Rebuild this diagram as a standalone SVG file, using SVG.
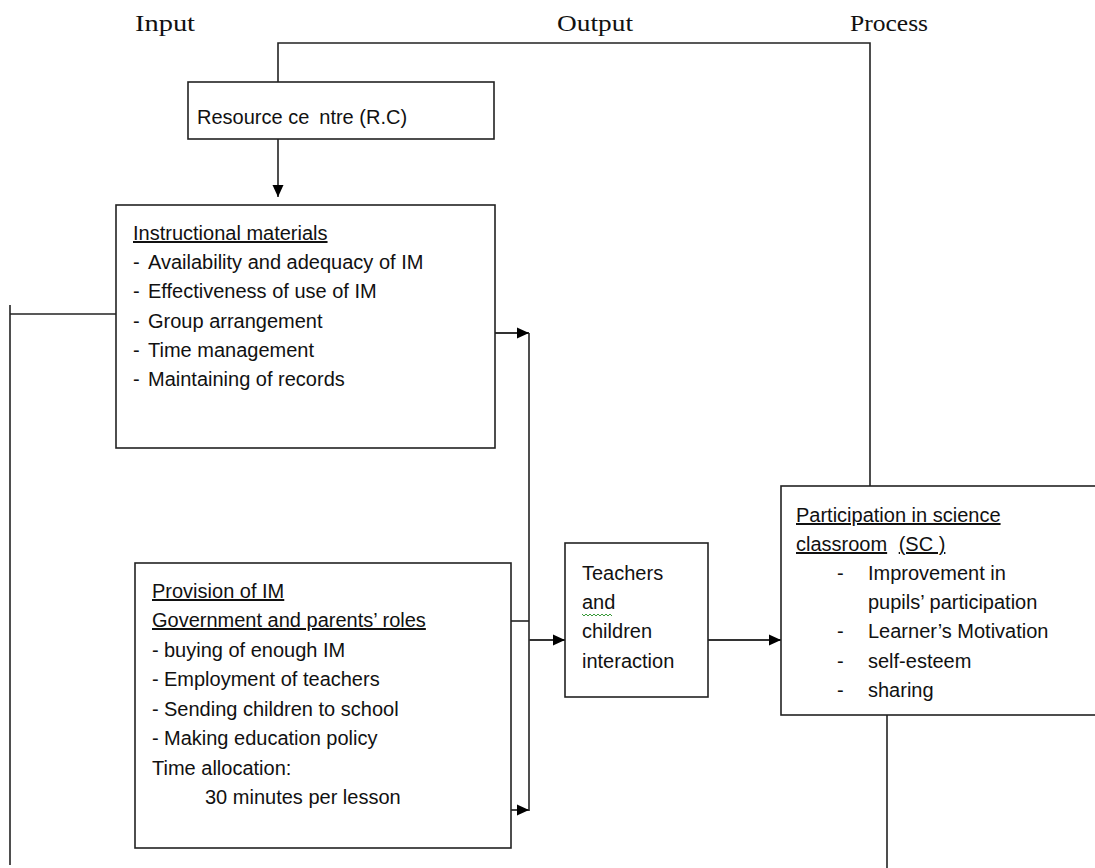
<svg xmlns="http://www.w3.org/2000/svg" width="1095" height="868" viewBox="0 0 1095 868">
<style>
.box{fill:#fff;stroke:#222;stroke-width:1.6}
.ln{fill:none;stroke:#222;stroke-width:1.6}
.ar{fill:none;stroke:#333;stroke-width:1.8}
.t{font-family:"Liberation Sans",Arial,sans-serif;font-size:20px;fill:#111}
.h{font-family:"Liberation Serif","Times New Roman",serif;font-size:24px;fill:#111}
.u{text-decoration:underline}
</style>
<defs>
<marker id="ah" markerUnits="userSpaceOnUse" markerWidth="12" markerHeight="12" refX="12" refY="6" orient="auto">
<path d="M0,0.5 L12,6 L0,11.5 Z" fill="#000"/>
</marker>
</defs>
<rect width="1095" height="868" fill="#fff"/>

<g id="headers">
<text class="h" x="135" y="31" textLength="60" lengthAdjust="spacingAndGlyphs">Input</text>
<text class="h" x="557" y="31" textLength="76" lengthAdjust="spacingAndGlyphs">Output</text>
<text class="h" x="850" y="31" textLength="78" lengthAdjust="spacingAndGlyphs">Process</text>
</g>

<g id="connectors">
<polyline class="ln" points="278,82 278,43 870,43 870,486"/>
<line class="ln" x1="278" y1="139" x2="278" y2="197" marker-end="url(#ah)"/>
<line class="ar" x1="495" y1="333" x2="529" y2="333" marker-end="url(#ah)"/>
<line class="ln" x1="529" y1="333" x2="529" y2="811"/>
<line class="ln" x1="511" y1="621" x2="529" y2="621"/>
<line class="ar" x1="511" y1="810" x2="529" y2="810" marker-end="url(#ah)"/>
<line class="ar" x1="529" y1="640" x2="565" y2="640" marker-end="url(#ah)"/>
<line class="ar" x1="708" y1="640" x2="781" y2="640" marker-end="url(#ah)"/>
<line class="ln" x1="116" y1="314" x2="10" y2="314"/>
<line class="ln" x1="10" y1="305" x2="10" y2="865"/>
<line class="ln" x1="887" y1="715" x2="887" y2="868"/>
</g>

<g id="resource-centre">
<rect class="box" x="188" y="82" width="306" height="57"/>
<text class="t" x="197" y="124">Resource ce<tspan dx="10">ntre (R.C)</tspan></text>
</g>

<g id="instructional-materials">
<rect class="box" x="116" y="205" width="379" height="243"/>
<text class="t u" x="133" y="240">Instructional materials</text>
<text class="t" y="269"><tspan x="133">-</tspan><tspan x="148">Availability and adequacy of IM</tspan></text>
<text class="t" y="298"><tspan x="133">-</tspan><tspan x="148">Effectiveness of use of IM</tspan></text>
<text class="t" y="328"><tspan x="133">-</tspan><tspan x="148">Group arrangement</tspan></text>
<text class="t" y="357"><tspan x="133">-</tspan><tspan x="148">Time management</tspan></text>
<text class="t" y="386"><tspan x="133">-</tspan><tspan x="148">Maintaining of records</tspan></text>
</g>

<g id="provision">
<rect class="box" x="135" y="563" width="376" height="285"/>
<text class="t u" x="152" y="598">Provision of IM</text>
<text class="t u" x="152" y="627">Government and parents’ roles</text>
<text class="t" y="657"><tspan x="152">-</tspan><tspan x="164">buying of enough IM</tspan></text>
<text class="t" y="686"><tspan x="152">-</tspan><tspan x="164">Employment of teachers</tspan></text>
<text class="t" y="716"><tspan x="152">-</tspan><tspan x="164">Sending children to school</tspan></text>
<text class="t" y="745"><tspan x="152">-</tspan><tspan x="164">Making education policy</tspan></text>
<text class="t" x="152" y="775">Time allocation:</text>
<text class="t" x="205" y="804">30 minutes per lesson</text>
</g>

<g id="teachers-children">
<rect class="box" x="565" y="543" width="143" height="154"/>
<text class="t" x="582" y="580">Teachers</text>
<text class="t" x="582" y="609">and</text>
<path d="M582,614 l2,2 l2,-2 l2,2 l2,-2 l2,2 l2,-2 l2,2 l2,-2 l2,2 l2,-2 l2,2 l2,-2 l2,2 l2,-2 l2,2" fill="none" stroke="#3a9a3a" stroke-width="1"/>
<text class="t" x="582" y="638">children</text>
<text class="t" x="582" y="668">interaction</text>
</g>

<g id="participation">
<rect class="box" x="781" y="486" width="330" height="229"/>
<text class="t u" x="796" y="522">Participation in science</text>
<text class="t" x="796" y="551"><tspan class="u">classroom</tspan><tspan dx="6"> </tspan><tspan class="u">(SC )</tspan></text>
<text class="t" y="580"><tspan x="837">-</tspan><tspan x="868">Improvement in</tspan></text>
<text class="t" x="868" y="609">pupils’ participation</text>
<text class="t" y="638"><tspan x="837">-</tspan><tspan x="868">Learner’s Motivation</tspan></text>
<text class="t" y="668"><tspan x="837">-</tspan><tspan x="868">self-esteem</tspan></text>
<text class="t" y="697"><tspan x="837">-</tspan><tspan x="868">sharing</tspan></text>
</g>
</svg>
